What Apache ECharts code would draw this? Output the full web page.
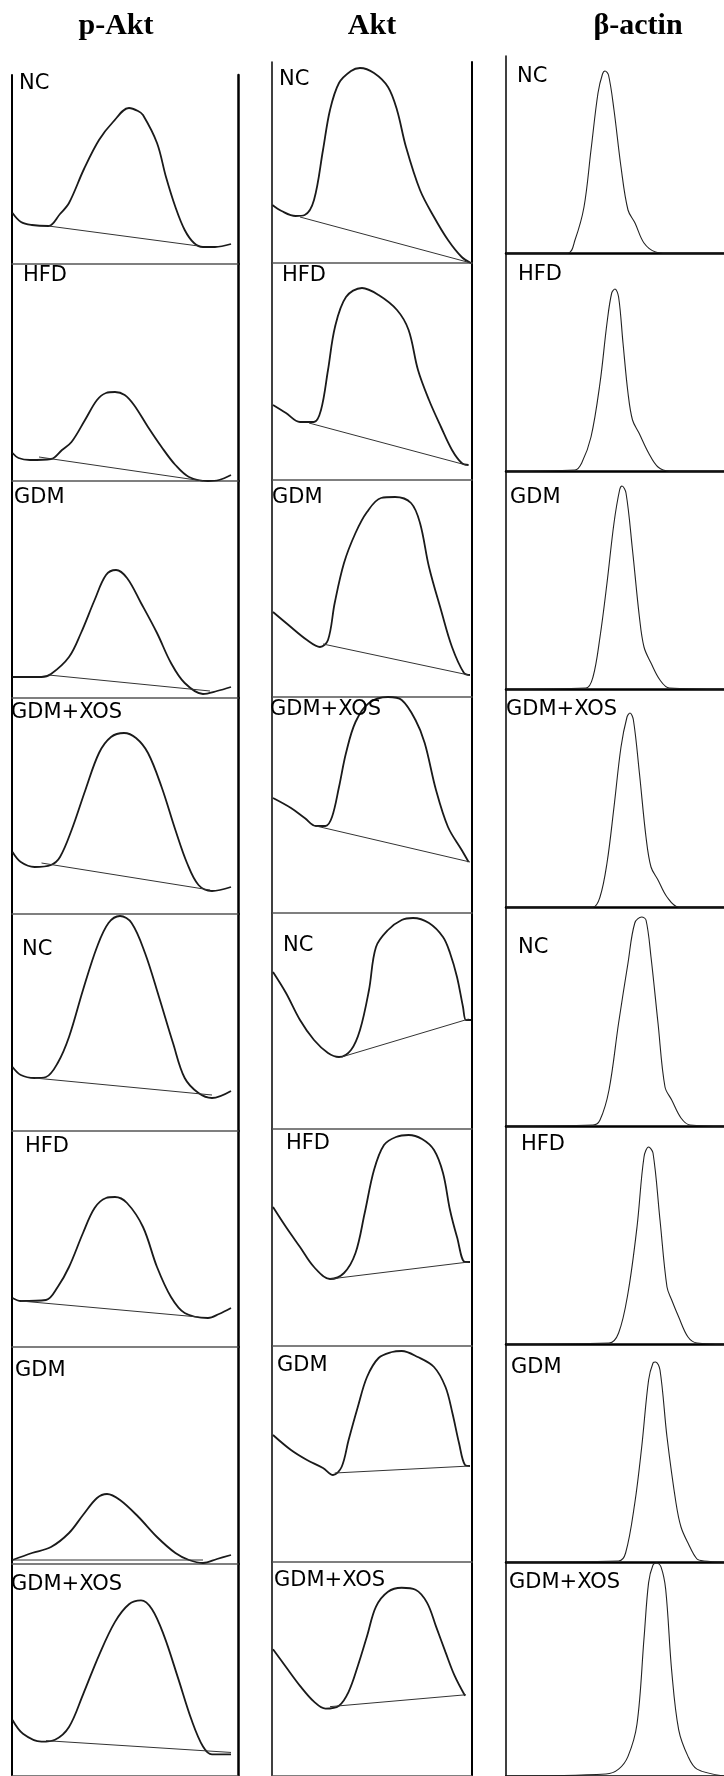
<!DOCTYPE html>
<html>
<head>
<meta charset="utf-8">
<script src="https://cdn.jsdelivr.net/npm/echarts@6/dist/echarts.min.js"></script>
<style>html,body{margin:0;padding:0;background:#fff}#c{width:724px;height:1776px}</style>
</head>
<body>
<div id="c"></div>
<script>
// ---------- DATA (panel units: x = px from panel left, y = px above panel baseline) ----------
const columnTitles = ['p-Akt', 'Akt', 'β-actin'];
const rowLabels = ['NC', 'HFD', 'GDM', 'GDM+XOS', 'NC', 'HFD', 'GDM', 'GDM+XOS'];

// p-Akt densitometry traces
const pAkt1 = [[0.5,51],[9,42],[20,39],[36.5,38],[48,50],[57,61],[72,95],[87,124],[101,142],[117,156],[126,153],[131,149],[145,121],[154,87],[163.4,57],[172.7,34],[182,21],[191,17],[203,17],[219,20]];
const pAkt2 = [[0.5,28],[6.5,23],[18,21],[39,22],[50,31],[59.5,39],[73,61],[85,81],[94,88],[103,89],[112.7,86],[122,76],[136,54],[149.6,34],[163.4,16],[177,4],[196,0],[207,1],[219,6]];
const pAkt3 = [[0.5,21],[29.5,21],[39,24],[57,41],[69,65],[82.6,98],[94,123],[104,128],[115,120],[129,95],[145,65],[159,35],[172.7,15],[191,4],[205,7],[219,11]];
const pAkt4 = [[0.5,62],[8.8,52],[22.6,47],[39,49],[48,57],[59.6,84],[73.4,124],[87,161],[99,177],[112,181],[124,176],[136,161],[149.6,127],[163.4,84],[175,51],[186.5,29],[200,23],[219,27]];
const pAkt5 = [[0.5,64],[8.8,56],[22.6,53],[34,54],[45.7,68],[57,94],[71,141],[85,184],[96.5,208],[108,215],[119.6,208],[133,178],[147,134],[161,88],[172.7,53],[186.5,38],[200,33],[219,40]];
const pAkt6 = [[0.5,49],[8.8,46],[34,47],[45.7,60],[57,80],[71,114],[82.6,139],[94,149],[103,150],[115,144],[131,120],[145,80],[159,50],[172.7,34],[196,29],[207,33],[219,39]];
const pAkt7 = [[0.5,4],[20,11],[39,17],[57,31],[71,49],[85,66],[95,70],[108,64],[126.5,47],[145,27],[163.4,11],[177,4],[191,1],[205,5],[219,9]];
const pAkt8 = [[0.5,57],[11,43],[29.5,35],[43,37],[57,50],[71,83],[87,123],[103,157],[117,175],[129,179],[140,170],[152,143],[166,100],[179.6,57],[191,30],[200,22],[219,22]];
// p-Akt background baselines
const pAktBase1 = [[36.5,38],[186.5,18]];
const pAktBase2 = [[27,24],[191,0]];
const pAktBase3 = [[36.5,23],[198,7]];
const pAktBase4 = [[29.5,51],[198,24]];
const pAktBase5 = [[22.6,53],[200,36]];
const pAktBase6 = [[8.8,46],[186.5,30]];
const pAktBase7 = [[0.5,4],[191,4]];
const pAktBase8 = [[34,36],[219,24]];

// Akt densitometry traces
const akt1 = [[0.4,58],[9.6,52],[23.5,47],[32.7,48],[42,63],[51,113],[58,153],[67,180],[79,192],[88,195],[102,190],[116,176],[125,153],[134,116],[148,73],[162,46],[176,23],[189.7,6],[199,0]];
const akt2 = [[1,75],[14,67],[28,58],[42,58],[49,70],[56,110],[63,153],[74,183],[90,192],[106.6,185],[125,170],[136.6,150],[146,110],[157,80],[169,53],[180,30],[189.7,17],[196.6,15]];
const akt3 = [[1,85],[16.5,72],[35,57],[48,50],[56,57],[62.7,94],[72,134],[83.5,164],[95,185],[109,199],[123,200],[139,194],[148,174],[157,130],[169,87],[180,50],[192,24],[198,22]];
const akt4 = [[1,115],[19,105],[32.7,95],[44,87],[53.5,87],[60,96],[67,126],[74,160],[83.5,191],[97,210],[116,216],[129.7,213],[143.5,193],[152.7,170],[164,123],[176,86],[189.7,63],[196.6,51]];
const akt5 = [[1,157],[14,136],[28,109],[42,89],[56,76],[67,72],[79,79],[88,99],[97,139],[104,182],[116,199],[129.7,209],[141,211],[157,206],[171,192],[178,176],[185,152],[191,122],[194,109],[199,109]];
const akt6 = [[1,139],[14,119],[28,99],[42,79],[58,67],[72,73],[83.5,93],[92.7,133],[102,176],[112,201],[124,209],[136.6,211],[150,207],[162,196],[171,173],[178,136],[185,109],[193,84],[198,84]];
const akt7 = [[1,127],[19,112],[35,102],[51,94],[61,87],[69.6,95],[76.6,122],[85.8,155],[95,185],[106.6,204],[120,210],[129.7,211],[145.8,205],[162,195],[173.5,175],[180.4,149],[187,119],[193,97],[198,96]];
const akt8 = [[1,128],[14,110],[28,91],[42,75],[53.5,68],[67,71],[76.6,85],[85.8,111],[95,141],[104,171],[116,186],[129.7,190],[143.5,188],[155,175],[164,151],[173.5,125],[182.7,101],[193,81]];
// Akt background baselines
const aktBase1 = [[28,46],[199,0]];
const aktBase2 = [[37,57],[194,15]];
const aktBase3 = [[51,53],[196.6,22]];
const aktBase4 = [[44,87],[198,51]];
const aktBase5 = [[69.6,72],[196.6,110]];
const aktBase6 = [[58,67],[196.6,84]];
const aktBase7 = [[62.7,89],[198,96]];
const aktBase8 = [[58,70],[194,82]];

// β-actin densitometry traces
const actin1 = [[0,0],[62,0],[69,13],[78,46],[85,103],[92,160],[96.5,179],[99,182],[102.5,178],[108,143],[115,86],[122,43],[129,30],[138,10],[149.6,1],[160,0],[218,0]];
const actin2 = [[0,0],[69,1],[75.7,8],[85,34],[94,88],[101,148],[105.7,178],[109,182],[112.6,174],[117,128],[122,78],[126.5,51],[133,38],[142.6,18],[152,4],[163.4,0],[218,0]];
const actin3 = [[0,0],[80,1],[87,12],[94,52],[101,106],[108,166],[113.6,199],[116,203],[120,196],[126.5,139],[133.4,72],[138,42],[145,26],[154,9],[163.4,1],[218,0]];
const actin4 = [[0,0],[87,0],[94,10],[101,44],[108,100],[115,160],[121,190],[124,194],[127.4,187],[133.4,134],[140,70],[145,40],[152,27],[161,10],[172.7,0],[218,0]];
const actin5 = [[0,0],[87,1],[94,6],[103,36],[112.6,103],[122,163],[128.8,203],[135.7,209],[140,206],[145,169],[152,103],[159,39],[165.7,26],[175,8],[184,1],[218,0]];
const actin6 = [[0,0],[103,1],[112.6,11],[122,51],[131,117],[138,187],[142.6,197],[147,191],[154,124],[161,57],[165.7,44],[172.7,27],[182,7],[191,1],[218,0]];
const actin7 = [[0,0],[112.6,1],[119.6,9],[128.8,59],[135.7,115],[142.6,182],[147,199],[149.6,200],[154,192],[161,125],[170,59],[175,35],[182,19],[191,3],[198,1],[218,0]];
const actin8 = [[0,0],[100,2],[112.6,7],[122,20],[131,53],[138,140],[142.6,197],[147,215],[150.5,217],[155,213],[159.7,190],[165.7,107],[172.7,47],[182,20],[191,7],[218,0]];

const pAktTraces = [pAkt1,pAkt2,pAkt3,pAkt4,pAkt5,pAkt6,pAkt7,pAkt8];
const pAktBases = [pAktBase1,pAktBase2,pAktBase3,pAktBase4,pAktBase5,pAktBase6,pAktBase7,pAktBase8];
const aktTraces = [akt1,akt2,akt3,akt4,akt5,akt6,akt7,akt8];
const aktBases = [aktBase1,aktBase2,aktBase3,aktBase4,aktBase5,aktBase6,aktBase7,aktBase8];
const actinTraces = [actin1,actin2,actin3,actin4,actin5,actin6,actin7,actin8];

// ---------- LAYOUT ----------
const columns = [
  { traces: pAktTraces, bases: pAktBases, left: 12, width: 226, top0: 75,
    bottoms: [264,481,698,914,1131,1347,1564,1780], rightBorder: true,
    titleX: 116, labelPos: [[19,76],[23,268],[14,490],[11,705],[22,942],[25,1139],[15,1363],[11,1577]],
    sepColor: '#555', sepWidth: 1.5, leftW: 2, rightW: 2.5, traceColor: '#1a1a1a', traceW: 1.8 },
  { traces: aktTraces, bases: aktBases, left: 272, width: 200, top0: 62,
    bottoms: [263,480,697,913,1129,1346,1562,1778], rightBorder: true,
    titleX: 372, labelPos: [[279,72],[282,268],[272,490],[270,702],[283,938],[286,1136],[277,1358],[274,1573]],
    sepColor: '#555', sepWidth: 1.5, leftW: 1.5, rightW: 2, traceColor: '#1a1a1a', traceW: 1.8 },
  { traces: actinTraces, bases: null, left: 506, width: 218, top0: 56,
    bottoms: [253,471,689,907,1126,1344,1562,1780], rightBorder: false,
    titleX: 638, labelPos: [[517,69],[518,267],[510,490],[506,702],[518,940],[521,1137],[511,1360],[509,1575]],
    sepColor: '#000', sepWidth: 2.5, leftW: 1.5, rightW: 0, traceColor: '#222', traceW: 1.1 }
];

const grid = [], xAxis = [], yAxis = [], series = [], title = [];
const hidden = { axisTick: { show: false }, axisLabel: { show: false }, splitLine: { show: false } };

columns.forEach((col, ci) => {
  title.push({ text: columnTitles[ci], left: col.titleX, top: 11, textAlign: 'center', padding: 0,
    textStyle: { fontFamily: 'Liberation Serif', fontWeight: 'bold', fontSize: 30, color: '#000' } });
  for (let r = 0; r < 8; r++) {
    const top = r === 0 ? col.top0 : col.bottoms[r - 1];
    const h = col.bottoms[r] - top;
    const gi = grid.length;
    grid.push({ left: col.left, top: top, width: col.width, height: h });
    xAxis.push(Object.assign({ type: 'value', gridIndex: gi, min: 0, max: col.width, position: 'bottom',
      axisLine: { show: true, onZero: false, lineStyle: { color: col.sepColor, width: col.sepWidth } } }, hidden));
    const yi = yAxis.length;
    yAxis.push(Object.assign({ type: 'value', gridIndex: gi, min: 0, max: h, position: 'left',
      axisLine: { show: true, onZero: false, lineStyle: { color: '#000', width: col.leftW } } }, hidden));
    if (col.rightBorder) {
      yAxis.push(Object.assign({ type: 'value', gridIndex: gi, min: 0, max: h, position: 'right',
        axisLine: { show: true, onZero: false, lineStyle: { color: '#000', width: col.rightW } } }, hidden));
    }
    series.push({ type: 'line', xAxisIndex: gi, yAxisIndex: yi, data: col.traces[r], showSymbol: false,
      smooth: 0.35, clip: false, lineStyle: { color: col.traceColor, width: col.traceW } });
    if (col.bases) {
      series.push({ type: 'line', xAxisIndex: gi, yAxisIndex: yi, data: col.bases[r], showSymbol: false,
        clip: false, lineStyle: { color: '#333', width: 1 } });
    }
    const lp = col.labelPos[r];
    title.push({ text: rowLabels[r], left: lp[0], top: lp[1] - 3, padding: 0,
      textStyle: { fontFamily: 'DejaVu Sans', fontWeight: 'normal', fontSize: 21, color: '#000' } });
  }
});

const chart = echarts.init(document.getElementById('c'), null, { renderer: 'canvas' });
chart.setOption({ animation: false, backgroundColor: '#fff', title, grid, xAxis, yAxis, series });
</script>
</body>
</html>
